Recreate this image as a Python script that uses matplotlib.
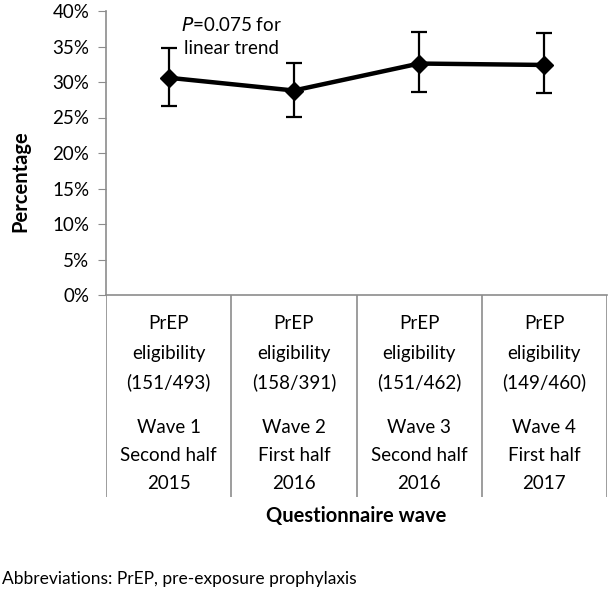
import matplotlib
matplotlib.use("Agg")
import matplotlib.pyplot as plt
from matplotlib.ticker import FuncFormatter

plt.rcParams['font.family'] = ['Lato', 'DejaVu Sans']

waves = [1, 2, 3, 4]
pct = [30.6, 28.8, 32.6, 32.4]
err_low = [26.6, 25.1, 28.6, 28.4]
err_high = [34.8, 32.7, 37.1, 36.9]
cat_labels = [
    ["PrEP", "eligibility", "(151/493)"],
    ["PrEP", "eligibility", "(158/391)"],
    ["PrEP", "eligibility", "(151/462)"],
    ["PrEP", "eligibility", "(149/460)"],
]
wave_labels = [
    ["Wave 1", "Second half", "2015"],
    ["Wave 2", "First half", "2016"],
    ["Wave 3", "Second half", "2016"],
    ["Wave 4", "First half", "2017"],
]
yticks = [0, 5, 10, 15, 20, 25, 30, 35, 40]

W, H = 615, 612
fig = plt.figure(figsize=(W / 100, H / 100), dpi=100)

def fx(px):
    return px / W

def fy(py):
    return 1 - py / H

x0, x1 = 106, 607
ytop, ybot = 11, 295
ax = fig.add_axes([fx(x0), fy(ybot), fx(x1) - fx(x0), fy(ytop) - fy(ybot)])

lo = [p - l for p, l in zip(pct, err_low)]
hi = [h - p for p, h in zip(pct, err_high)]
ax.errorbar(waves, pct, yerr=[lo, hi], color='black', lw=3.2, marker='D',
            markersize=9, elinewidth=1.6, capsize=6, capthick=1.6, zorder=3)

ax.set_xlim(0.5, 4.5)
ax.set_ylim(0, 40)
ax.set_yticks(yticks)
ax.yaxis.set_major_formatter(FuncFormatter(lambda v, p: f"{int(v)}%"))
ax.set_xticks([])
for s in ['top', 'right']:
    ax.spines[s].set_visible(False)
for s in ['left', 'bottom']:
    ax.spines[s].set_color('#8c8c8c')
    ax.spines[s].set_linewidth(1.2)
ax.tick_params(axis='y', direction='out', length=6, color='#8c8c8c',
               labelsize=13.5, pad=6)
ax.set_ylabel("Percentage", fontsize=14.5, fontweight='bold')
ax.yaxis.set_label_coords(-0.150, 0.40)

ax.text(1.5, 39.3, "$\\it{P}$=0.075 for\nlinear trend", ha='center', va='top',
        fontsize=13.5, linespacing=1.4)

# category table below axis
tb = 497
tax = fig.add_axes([fx(x0), fy(tb), fx(x1) - fx(x0), fy(ybot) - fy(tb)])
tax.set_xlim(0.5, 4.5)
tax.set_ylim(tb, ybot)
tax.axis('off')
for b in [0.5, 1.5, 2.5, 3.5, 4.5]:
    tax.plot([b, b], [ybot, tb], color='#8c8c8c', lw=1.2)
top_rows = [323, 353, 382]
bot_rows = [427, 455, 483]
for i in range(len(waves)):
    for yy, t in zip(top_rows, cat_labels[i]):
        tax.text(waves[i], yy, t, ha='center', va='center', fontsize=13.5)
    for yy, t in zip(bot_rows, wave_labels[i]):
        tax.text(waves[i], yy, t, ha='center', va='center', fontsize=13.5)

fig.text(fx(356), fy(516), "Questionnaire wave", ha='center', va='center',
         fontsize=14.5, fontweight='bold')
fig.text(fx(2), fy(579), "Abbreviations: PrEP, pre-exposure prophylaxis",
         ha='left', va='center', fontsize=12.5)

fig.savefig("out.png", dpi=100)
